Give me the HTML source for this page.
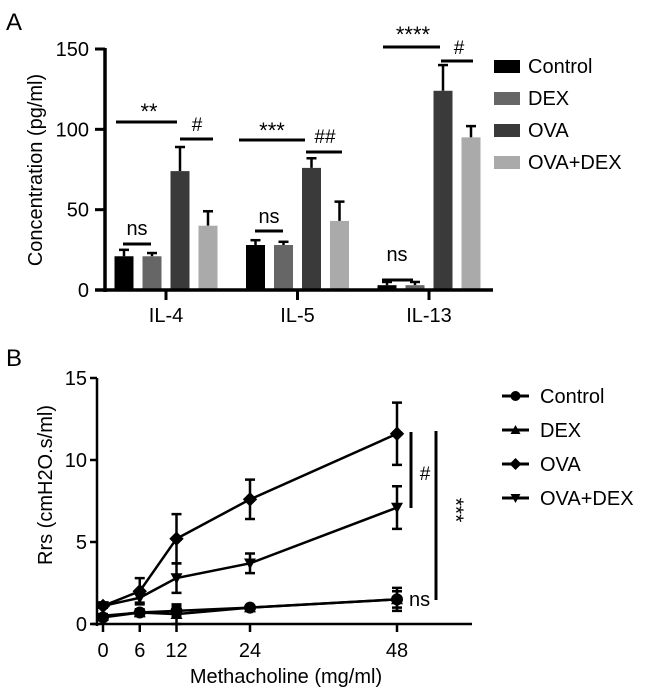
<!DOCTYPE html>
<html><head><meta charset="utf-8"><style>
body{margin:0;background:#fff;}
svg{display:block;font-family:"Liberation Sans",Arial,sans-serif;}
</style></head><body>
<svg id="fig" width="646" height="696" viewBox="0 0 646 696">
<text x="6" y="30" font-size="24">A</text>
<text x="6" y="366" font-size="24">B</text>
<g id="pa"></g>
<g id="pb"></g>
</svg>
<script>
// Panel A data
const cytokines = ["IL-4","IL-5","IL-13"];
const groupsA = ["Control","DEX","OVA","OVA+DEX"];
const controlVals = [21, 28, 3];
const dexVals = [21, 28, 3];
const ovaVals = [74, 76, 124];
const ovaDexVals = [40, 43, 95];
const controlErr = [4, 3, 2];
const dexErr = [2, 2, 2];
const ovaErr = [15, 6, 16];
const ovaDexErr = [9, 12, 7];
const yTicksA = [0, 50, 100, 150];
// Panel B data
const doses = [0, 6, 12, 24, 48];
const groupsB = ["Control","DEX","OVA","OVA+DEX"];
const bControl = [0.4, 0.7, 0.8, 1.0, 1.5];
const bDex = [0.5, 0.7, 0.6, 1.0, 1.5];
const bOva = [1.1, 2.0, 5.2, 7.6, 11.6];
const bOvaDex = [1.1, 1.6, 2.8, 3.7, 7.1];
const bControlErr = [0.1, 0.1, 0.3, 0.1, 0.7];
const bDexErr = [0.1, 0.2, 0.6, 0.1, 0.5];
const bOvaErr = [0.1, 0.8, 1.5, 1.2, 1.9];
const bOvaDexErr = [0.1, 0.3, 0.9, 0.6, 1.3];
const yTicksB = [0, 5, 10, 15];

const NS = "http://www.w3.org/2000/svg";
function mk(parent, tag, attrs, text){
  const e = document.createElementNS(NS, tag);
  for (const k in attrs) e.setAttribute(k, attrs[k]);
  if (text !== undefined) e.textContent = text;
  parent.appendChild(e);
  return e;
}

// ---- Panel A ----
const pa = document.getElementById('pa');
const yA = v => 290 - v * (241/150);
const groupCenter = i => 166 + i * 131.5;
const barOffset = [-42, -14, 14, 42];
const colorsA = ["#000000","#666666","#3a3a3a","#aaaaaa"];
const seriesA = [controlVals, dexVals, ovaVals, ovaDexVals];
const errA = [controlErr, dexErr, ovaErr, ovaDexErr];
const bw = 19;
seriesA.forEach((vals, s) => {
  vals.forEach((v, i) => {
    const cx = groupCenter(i) + barOffset[s];
    const top = yA(v + errA[s][i]);
    let e = mk(pa, 'line', {x1:cx, x2:cx, y1:yA(v), y2:top, stroke:'#000', 'stroke-width':2.5});
    
    
    e = mk(pa, 'line', {x1:cx-5, x2:cx+5, y1:top, y2:top, stroke:'#000', 'stroke-width':2.5});
    
    
    const r = mk(pa, 'rect', {x:cx-bw/2, y:yA(v), width:bw, height:290-yA(v), fill:colorsA[s]});
    
    
  });
});
let ax = mk(pa, 'line', {x1:105, x2:105, y1:48, y2:292, stroke:'#000', 'stroke-width':3.5});


ax = mk(pa, 'line', {x1:95, x2:493, y1:290, y2:290, stroke:'#000', 'stroke-width':3.5});


yTicksA.forEach(t => {
  const y = yA(t);
  let e = mk(pa, 'line', {x1:95, x2:105, y1:y, y2:y, stroke:'#000', 'stroke-width':3});
  
  
  e = mk(pa, 'text', {x:89, y:y+7, 'font-size':20, 'text-anchor':'end'}, t);
  
  
});
cytokines.forEach((c, i) => {
  const x = groupCenter(i);
  let e = mk(pa, 'line', {x1:x, x2:x, y1:290, y2:300, stroke:'#000', 'stroke-width':3});
  
  
  e = mk(pa, 'text', {x:x, y:322, 'font-size':20, 'text-anchor':'middle'}, c);
  
  
});
let yt = mk(pa, 'text', {x:0, y:0, 'font-size':20, 'text-anchor':'middle', transform:'translate(42,170) rotate(-90)'}, 'Concentration (pg/ml)');


const sigA = [
  [116,177,122,'**',149,119],[180,213,139,'#',197,131],
  [123,151,244,'ns',137,235],
  [239,305,140,'***',272,138],[306,342,152,'##',325,143],
  [255,283,231,'ns',269,223],
  [383,440,47,'****',413,42],[441,473,61,'#',459,54],
  [382,413,280,'ns',397,261]
];
sigA.forEach(s => {
  let e = mk(pa, 'line', {x1:s[0], x2:s[1], y1:s[2], y2:s[2], stroke:'#000', 'stroke-width':3});
  
  
  const fs = s[3]==='ns' ? 20 : (s[3][0]==='*' ? 22 : 19);
  e = mk(pa, 'text', {x:s[4], y:s[5], 'font-size':fs, 'text-anchor':'middle'}, s[3]);
  
  
});
groupsA.forEach((g, s) => {
  const y = 66 + s * 32;
  let e = mk(pa, 'rect', {x:494, y:y-6, width:26, height:13, fill:colorsA[s]});
  
  
  e = mk(pa, 'text', {x:528, y:y+7, 'font-size':20}, g);
  
  
});

// ---- Panel B ----
const pb = document.getElementById('pb');
const xB = d => 103 + d * (294/48);
const yB = v => 624 - v * (246/15);
const seriesB = [bControl, bDex, bOva, bOvaDex];
const errB = [bControlErr, bDexErr, bOvaErr, bOvaDexErr];
function marker(g, type, x, y, sz){
  let e;
  if (type === 0) e = mk(g, 'circle', {cx:x, cy:y, r:sz});
  else if (type === 1) e = mk(g, 'polygon', {points:`${x},${y-sz} ${x-sz},${y+sz*0.8} ${x+sz},${y+sz*0.8}`});
  else if (type === 2) e = mk(g, 'polygon', {points:`${x},${y-sz*1.2} ${x+sz*1.2},${y} ${x},${y+sz*1.2} ${x-sz*1.2},${y}`});
  else e = mk(g, 'polygon', {points:`${x},${y+sz} ${x-sz},${y-sz*0.8} ${x+sz},${y-sz*0.8}`});
  e.setAttribute('fill', '#000');
  return e;
}
seriesB.forEach((vals, s) => {
  const pts = vals.map((v, i) => xB(doses[i]) + ',' + yB(v)).join(' ');
  let e = mk(pb, 'polyline', {points:pts, fill:'none', stroke:'#000', 'stroke-width':2.5});
  
  
  vals.forEach((v, i) => {
    const x = xB(doses[i]);
    const lo = yB(v - errB[s][i]), hi = yB(v + errB[s][i]);
    let eb = mk(pb, 'path', {d:`M${x},${lo}V${hi}M${x-5},${lo}H${x+5}M${x-5},${hi}H${x+5}`, stroke:'#000', 'stroke-width':2.5, fill:'none'});
    
    
    const m = marker(pb, s, x, yB(v), 6);
    
    
  });
});
ax = mk(pb, 'line', {x1:97, x2:97, y1:378, y2:626, stroke:'#000', 'stroke-width':2.5});


ax = mk(pb, 'line', {x1:92, x2:472, y1:624, y2:624, stroke:'#000', 'stroke-width':2.5});


yTicksB.forEach(t => {
  const y = yB(t);
  let e = mk(pb, 'line', {x1:90, x2:97, y1:y, y2:y, stroke:'#000', 'stroke-width':2.5});
  
  
  e = mk(pb, 'text', {x:87, y:y+7, 'font-size':20, 'text-anchor':'end'}, t);
  
  
});
doses.forEach(d => {
  const x = xB(d);
  let e = mk(pb, 'line', {x1:x, x2:x, y1:624, y2:632, stroke:'#000', 'stroke-width':2.5});
  
  
  e = mk(pb, 'text', {x:x, y:657, 'font-size':20, 'text-anchor':'middle'}, d);
  
  
});
let xt = mk(pb, 'text', {x:286, y:683, 'font-size':20, 'text-anchor':'middle'}, 'Methacholine (mg/ml)');


yt = mk(pb, 'text', {x:0, y:0, 'font-size':20, 'text-anchor':'middle', transform:'translate(52,485) rotate(-90)'}, 'Rrs (cmH2O.s/ml)');


let sg = mk(pb, 'line', {x1:411, x2:411, y1:432, y2:508, stroke:'#000', 'stroke-width':3});


sg = mk(pb, 'text', {x:425, y:480, 'font-size':19, 'text-anchor':'middle'}, '#');


sg = mk(pb, 'line', {x1:436, x2:436, y1:431, y2:600, stroke:'#000', 'stroke-width':3});


sg = mk(pb, 'text', {x:0, y:0, 'font-size':21, 'text-anchor':'middle', transform:'translate(449,510) rotate(90)'}, '***');


sg = mk(pb, 'text', {x:409, y:606, 'font-size':20}, 'ns');


groupsB.forEach((g, s) => {
  const y = 396 + s * 34;
  let e = mk(pb, 'line', {x1:502, x2:529, y1:y, y2:y, stroke:'#000', 'stroke-width':3});
  
  
  e = marker(pb, s, 515.5, y, 5);
  
  
  e = mk(pb, 'text', {x:540, y:y+7, 'font-size':20}, g);
  
  
});
</script>
</body></html>
